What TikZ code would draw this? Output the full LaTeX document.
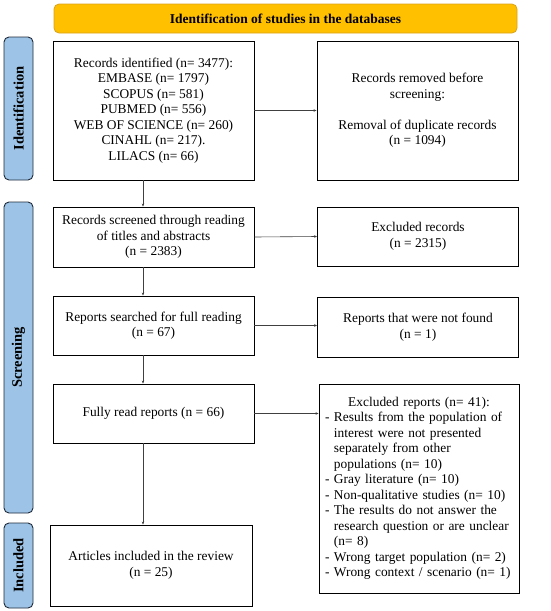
\documentclass[tikz,border=0pt]{standalone}
\usepackage{fontspec}
\setmainfont{Liberation Serif}
\usetikzlibrary{arrows.meta,calc}
\definecolor{bannerfill}{HTML}{FFC000}
\definecolor{bannerdraw}{HTML}{D9A21B}
\definecolor{sidefill}{HTML}{9DC3E6}
\definecolor{sidedraw}{HTML}{1F2A3A}
\newcommand{\hg}{\hphantom{- }}
\tikzset{
  x=1pt,y=-1pt,
  box/.style={draw=black,line width=0.9pt,fill=white,inner sep=4pt,align=center,
    font=\fontsize{13.4}{15.5}\selectfont},
  side/.style={draw=sidedraw,line width=0.9pt,fill=sidefill,rounded corners=5pt,
    minimum width=29pt,inner sep=0pt},
  sidetext/.style={rotate=90,font=\fontsize{14.5}{16}\selectfont\bfseries},
  banner/.style={draw=bannerdraw,line width=0.8pt,fill=bannerfill,rounded corners=5pt,
    inner sep=0pt,font=\fontsize{13.5}{15}\selectfont\bfseries},
  arr/.style={draw=black!75,line width=0.6pt,-{Stealth[length=3pt,width=2.5pt]}}
}
\begin{document}
\begin{tikzpicture}
\useasboundingbox (0,0) rectangle (550,611);
% banner
\node[banner,minimum width=463pt,minimum height=29pt] (ban) at (285.5,18.5) {Identification of studies in the databases};
% side bars
\node[side,minimum height=143pt] (sid) at (18.5,108.5) {};
\node[sidetext] (sidt) at (sid.center) {Identification};
\node[side,minimum height=311pt] (sscr) at (18.5,357.5) {};
\node[sidetext] (sscrt) at (sscr.center) {Screening};
\node[side,minimum height=85pt] (sinc) at (18.5,565.5) {};
\node[sidetext] (sinct) at (sinc.center) {Included};
% column coordinate
\coordinate (col) at (143,0);
% boxes
\node[box,minimum width=201pt,minimum height=139pt] (b1) at (153.5,110.5)
 {Records identified (n= 3477):\\EMBASE (n= 1797)\\SCOPUS (n= 581)\\PUBMED (n= 556)\\WEB OF SCIENCE (n= 260)\\CINAHL (n= 217).\\LILACS (n= 66)};
\node[box,minimum width=201pt,minimum height=139pt] (b2) at (417.5,110.5)
 {Records removed before\\screening:\\[15.5pt]Removal of duplicate records\\(n = 1094)};
\node[box,minimum width=201pt,minimum height=60pt] (b3) at (153.5,237)
 {Records screened through reading\\of titles and abstracts\\(n = 2383)};
\node[box,minimum width=201pt,minimum height=59pt] (b4) at (418,236.5)
 {Excluded records\\(n = 2315)};
\node[box,minimum width=201pt,minimum height=59pt] (b5) at (153.5,325.5)
 {Reports searched for full reading\\(n = 67)};
\node[box,minimum width=201pt,minimum height=60pt] (b6) at (418,327)
 {Reports that were not found\\(n = 1)};
\node[box,minimum width=201pt,minimum height=59pt] (b7) at (153.5,413.5)
 {Fully read reports (n = 66)};
\node[box,minimum width=200pt,minimum height=209pt,text width=188pt,align=left,inner sep=6pt] (b8) at (419,488.5)
 {{\centering Excluded reports (n= 41):\par}
 - Results from the population of\\
 \hg interest were not presented\\
 \hg separately from other\\
 \hg populations (n= 10)\\
 - Gray literature (n= 10)\\
 - Non-qualitative studies (n= 10)\\
 - The results do not answer the\\
 \hg research question or are unclear\\
 \hg (n= 8)\\
 - Wrong target population (n= 2)\\
 - Wrong context / scenario (n= 1)};
\node[box,minimum width=202pt,minimum height=81pt] (b9) at (151,565.5)
 {Articles included in the review\\(n = 25)};
% connectors
\draw[arr] (b1.east) -- (b2.west);
\draw[arr] (b3.east) -- (b4.west);
\draw[arr] (b5.east) -- (b5.east -| b6.west);
\draw[arr] (b7.east) -- (b7.east -| b8.west);
\draw[arr] (b1.south -| col) -- (b3.north -| col);
\draw[arr] (b3.south -| col) -- (b5.north -| col);
\draw[arr] (b5.south -| col) -- (b7.north -| col);
\draw[arr] (b7.south -| col) -- (b9.north -| col);
\end{tikzpicture}
\end{document}
